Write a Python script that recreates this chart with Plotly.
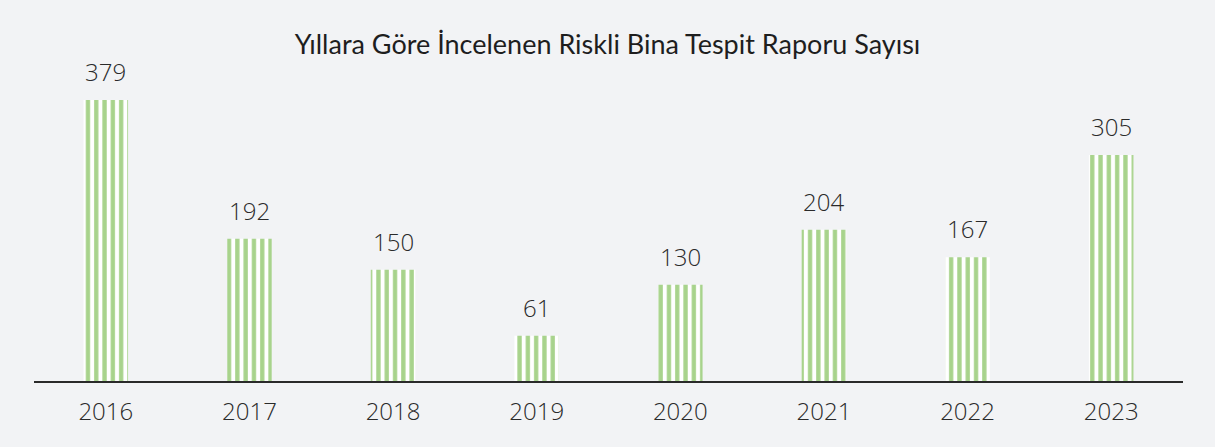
import plotly.graph_objects as go

years = ["2016", "2017", "2018", "2019", "2020", "2021", "2022", "2023"]
reports = [379, 192, 150, 61, 130, 204, 167, 305]

title_text = "Yıllara Göre İncelenen Riskli Bina Tespit Raporu Sayısı"

fig = go.Figure()
fig.add_trace(go.Bar(
    x=years, y=reports, width=0.31,
    marker=dict(color="#ffffff", line=dict(width=0),
                pattern=dict(shape="|", fgcolor="#a8d38c", bgcolor="#ffffff",
                             size=8.3, solidity=0.52, fgopacity=1, fillmode="overlay")),
    hoverinfo="skip",
))
for i, v in enumerate(reports):
    fig.add_annotation(x=i, y=v, text=str(v), showarrow=False, yanchor="bottom",
                       yshift=10, font=dict(family="Open Sans", size=24, weight=300,
                                            color="#2a2a2a"))

fig.update_layout(
    width=1215, height=447,
    paper_bgcolor="#f2f3f5", plot_bgcolor="#f2f3f5",
    margin=dict(l=34, r=32, t=60, b=66),
    showlegend=False,
    title=dict(text=title_text, x=0.5, xanchor="center", y=0.9, yanchor="middle",
               font=dict(family="Lato", size=27, color="#1e1e1e")),
    bargap=0.69,
)
fig.update_xaxes(type="category", range=[-0.5, 7.5], showline=True, linecolor="#2a2a2a",
                 linewidth=2, showgrid=False,
                 ticks="outside", ticklen=8, tickcolor="rgba(0,0,0,0)",
                 tickfont=dict(family="Open Sans", size=24, weight=300, color="#2a2a2a"))
fig.update_yaxes(range=[0, 433], visible=False, showgrid=False)

fig.write_html("out.html", config={"displayModeBar": False},
               post_script="document.body.style.margin='0';document.body.style.overflow='hidden';")
